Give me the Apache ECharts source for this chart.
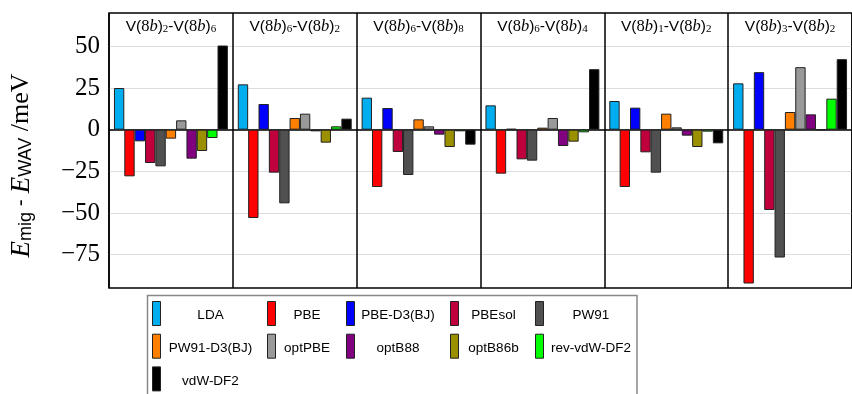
<!DOCTYPE html>
<html><head><meta charset="utf-8">
<script src="https://cdn.jsdelivr.net/npm/echarts@6/dist/echarts.min.js"></script>
<style>html,body{margin:0;padding:0;background:#fff}#c{width:852px;height:394px}</style>
</head><body><div id="c"></div>
<script>
// ---- data ----
const panels = ['V(8b)2-V(8b)6','V(8b)6-V(8b)2','V(8b)6-V(8b)8','V(8b)6-V(8b)4','V(8b)1-V(8b)2','V(8b)3-V(8b)2'];
const methods = ['LDA','PBE','PBE-D3(BJ)','PBEsol','PW91','PW91-D3(BJ)','optPBE','optB88','optB86b','rev-vdW-DF2','vdW-DF2'];
const LDA      = [25, 27.2, 19.2, 14.6, 17.2, 27.8];
const PBE      = [-28, -53, -34.4, -26.4, -34.4, -92.3];
const PBE_D3   = [-7, 15.4, 13, 0.5, 13.2, 34.5];
const PBEsol   = [-20, -25.8, -13.4, -17.8, -13.6, -48.2];
const PW91     = [-22, -44.2, -27.2, -18.6, -25.8, -76.7];
const PW91_D3  = [-5.4, 7, 6.2, 1.2, 9.6, 10.6];
const optPBE   = [5.6, 9.6, 2, 7, 1.4, 37.5];
const optB88   = [-17.4, -1, -3, -9.8, -3.6, 9.2];
const optB86b  = [-12.8, -7.8, -10.4, -7.2, -10.4, 0];
const revVdW   = [-5, 2, -1, -1.6, -1.2, 18.6];
const vdWDF2   = [50.5, 6.6, -9, 36.3, -8.2, 42.3];
const yTicks   = [-75, -50, -25, 0, 25, 50];

const values = [LDA, PBE, PBE_D3, PBEsol, PW91, PW91_D3, optPBE, optB88, optB86b, revVdW, vdWDF2];
const colors = ['#00AEEF','#FF0000','#0000FF','#C0003C','#505050','#FF8000','#999999','#800080','#9A9000','#00FF00','#000000'];

const SERIF = 'Liberation Serif', SANS = 'Liberation Sans';

function titleRich(s){
  const m = s.match(/^V\(8b\)(\d)-V\(8b\)(\d)$/);
  return '{s|V(}{n|8}{i|b}{s|)}{u|'+m[1]+'}{s|-V(}{n|8}{i|b}{s|)}{u|'+m[2]+'}';
}

const series = methods.map((name, k) => ({
  name, type: 'bar', data: values[k],
  barGap: '0%', barCategoryGap: '8%',
  itemStyle: { color: colors[k], borderColor: '#222', borderWidth: 1 },
  animation: false
}));

const legendCols = [
  { left: 152, names: ['LDA','PW91-D3(BJ)','vdW-DF2'], w: 90 },
  { left: 267, names: ['PBE','optPBE'], w: 53 },
  { left: 346, names: ['PBE-D3(BJ)','optB88'], w: 77 },
  { left: 450, names: ['PBEsol','optB86b'], w: 60 },
  { left: 535, names: ['PW91','rev-vdW-DF2'], w: 85 }
];
const legends = legendCols.map(c => ({
  orient: 'vertical', left: c.left, top: 301, padding: 0,
  itemWidth: 8, itemHeight: 24, itemGap: 7.7, icon: 'rect',
  itemStyle: { borderColor: '#222', borderWidth: 1 },
  data: c.names,
  formatter: n => '{c|' + n + '}',
  textStyle: { color: '#000', rich: { c: { width: c.w, align: 'center', fontSize: 13.5, fontFamily: SANS, color: '#000', padding: [4, 0, 0, 0] } } }
}));

const chart = echarts.init(document.getElementById('c'), null, { renderer: 'canvas' });
chart.setOption({
  animation: false,
  backgroundColor: '#fff',
  grid: { left: 108, top: 13, width: 756, height: 275, show: true, borderColor: '#000', borderWidth: 1.5, backgroundColor: 'transparent' },
  legend: legends,
  graphic: [{ type: 'rect', shape: { x: 147.5, y: 295.5, width: 489.5, height: 120 }, style: { fill: 'none', stroke: '#888', lineWidth: 1.5 }, z: -1 }],
  xAxis: [
    { type: 'category', data: panels, position: 'bottom',
      axisLine: { show: true, onZero: true, lineStyle: { color: '#000', width: 1.5 } },
      axisTick: { show: false }, axisLabel: { show: false },
      splitLine: { show: true, interval: 0, lineStyle: { color: '#000', width: 1.5 } } },
    { type: 'category', data: panels, position: 'top',
      axisLine: { show: false }, axisTick: { show: false }, splitLine: { show: false },
      axisLabel: { show: true, inside: true, interval: 0, margin: 5, formatter: titleRich,
        rich: {
          s: { fontFamily: SANS, fontSize: 15.5, color: '#000' },
          n: { fontFamily: SERIF, fontSize: 16.5, color: '#000' },
          i: { fontFamily: SERIF, fontStyle: 'italic', fontSize: 16.5, color: '#000' },
          u: { fontFamily: SERIF, fontSize: 11, color: '#000', verticalAlign: 'bottom', lineHeight: 12 }
        } } }
  ],
  yAxis: {
    type: 'value', min: -95, max: 70, interval: 5,
    axisLine: { show: false }, axisTick: { show: false },
    axisLabel: { margin: 9, color: '#000', fontFamily: SERIF, fontSize: 25,
      formatter: v => yTicks.indexOf(v) >= 0 ? (v < 0 ? '\u2212' + (-v) : String(v)) : '' },
    splitLine: { show: true, lineStyle: { color: ['rgba(0,0,0,0)','rgba(0,0,0,0)','rgba(0,0,0,0)','rgba(0,0,0,0)','#dddddd'], width: 1.2 } },
    name: '{e|E}{u|mig}{s| - }{e|E}{u|WAV}{n| /meV}',
    nameLocation: 'middle', nameGap: 74,
    nameTextStyle: { padding: [0, 30, 0, 0], rich: {
      e: { fontFamily: SERIF, fontStyle: 'italic', fontSize: 27, color: '#000' },
      u: { fontFamily: SANS, fontSize: 18, color: '#000', verticalAlign: 'bottom', lineHeight: 19 },
      s: { fontFamily: SANS, fontSize: 21, color: '#000' },
      n: { fontFamily: SERIF, fontSize: 26, color: '#000' }
    } }
  },
  series
});
</script></body></html>
